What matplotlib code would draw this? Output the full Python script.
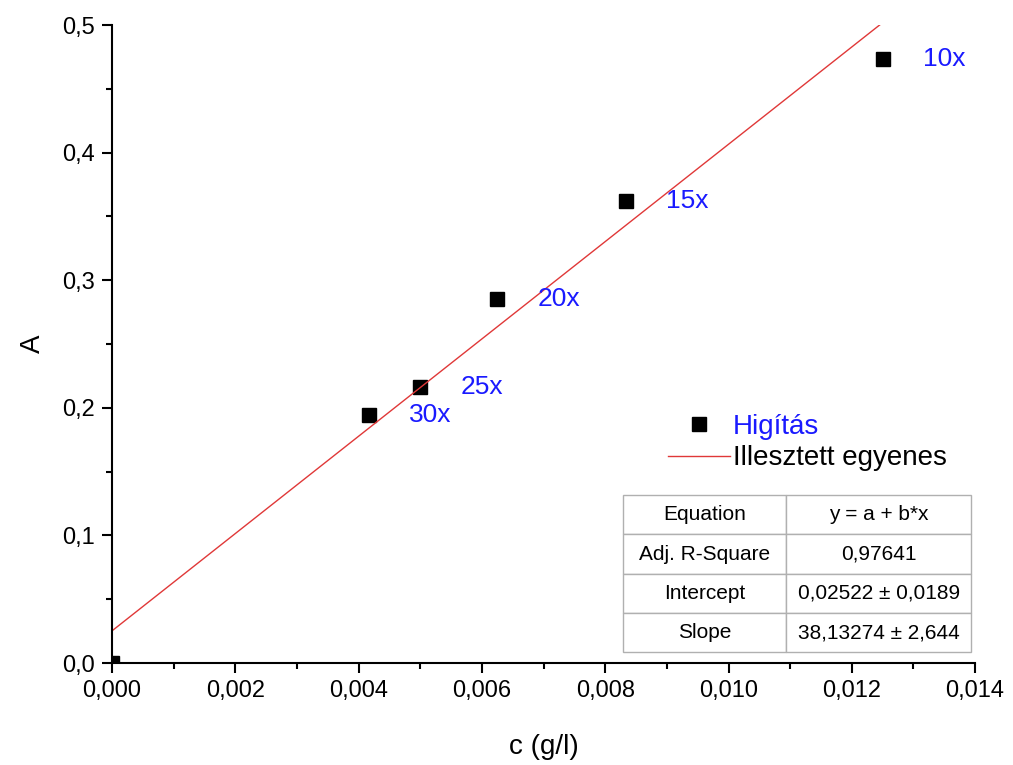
import matplotlib
matplotlib.use("Agg")
import matplotlib.pyplot as plt
from matplotlib.ticker import MultipleLocator, FuncFormatter

plt.rcParams['font.family'] = ['Liberation Sans', 'DejaVu Sans']

conc = [0.0, 0.0041667, 0.005, 0.00625, 0.0083333, 0.0125]
absorb = [0.0, 0.194, 0.216, 0.285, 0.362, 0.473]
labels = ['', '30x', '25x', '20x', '15x', '10x']

intercept = 0.02522
slope = 38.13274
fit_x = [0.0, 0.0125]

table_rows = [["Equation", "y = a + b*x"],
              ["Adj. R-Square", "0,97641"],
              ["Intercept", "0,02522 \u00b1 0,0189"],
              ["Slope", "38,13274 \u00b1 2,644"]]

fig = plt.figure(figsize=(10.13, 7.65), dpi=100)
ax = fig.add_axes([0.1106, 0.1333, 0.852, 0.834])

fit_y = [intercept + slope * x for x in fit_x]
line, = ax.plot(fit_x, fit_y, color='#e03838', lw=1.0, label='Illesztett egyenes')
pts, = ax.plot(conc, absorb, 's', color='black', ms=9.5, zorder=1.5, label='Hig\u00edt\u00e1s')

for x, y, t in zip(conc, absorb, labels):
    if t:
        ax.annotate(t, (x, y), xytext=(40, 0), textcoords='offset pixels',
                    color='#1a1aff', fontsize=19, va='center', ha='left')

ax.set_xlim(0, 0.014)
ax.set_ylim(0, 0.5)
ax.xaxis.set_major_locator(MultipleLocator(0.002))
ax.xaxis.set_minor_locator(MultipleLocator(0.001))
ax.yaxis.set_major_locator(MultipleLocator(0.1))
ax.yaxis.set_minor_locator(MultipleLocator(0.05))
ax.xaxis.set_major_formatter(FuncFormatter(lambda v, p: f"{v:.3f}".replace('.', ',')))
ax.yaxis.set_major_formatter(FuncFormatter(lambda v, p: f"{v:.1f}".replace('.', ',')))
for s in ['top', 'right']:
    ax.spines[s].set_visible(False)
for s in ['left', 'bottom']:
    ax.spines[s].set_linewidth(1.5)
ax.tick_params(which='major', direction='out', length=7, width=1.5, labelsize=17, pad=5)
ax.tick_params(which='minor', direction='out', length=4, width=1.5)
ax.set_xlabel('c (g/l)', fontsize=20, labelpad=23)
ax.set_ylabel('A', fontsize=20, labelpad=12)

leg = ax.legend(handles=[pts, line], loc='upper left', bbox_to_anchor=(0.615, 0.43),
                frameon=False, fontsize=20, handlelength=2.25, handletextpad=0.1,
                labelspacing=0.2)
leg.get_texts()[0].set_color('#1a1aff')

tb = ax.table(cellText=table_rows, cellLoc='center',
              bbox=[0.592, 0.017, 0.403, 0.246], colWidths=[0.47, 0.53])
tb.auto_set_font_size(False)
tb.set_fontsize(15)
for cell in tb.get_celld().values():
    cell.set_edgecolor('#b0b0b0')
    cell.set_linewidth(1.0)

fig.savefig('out.png', dpi=100)
